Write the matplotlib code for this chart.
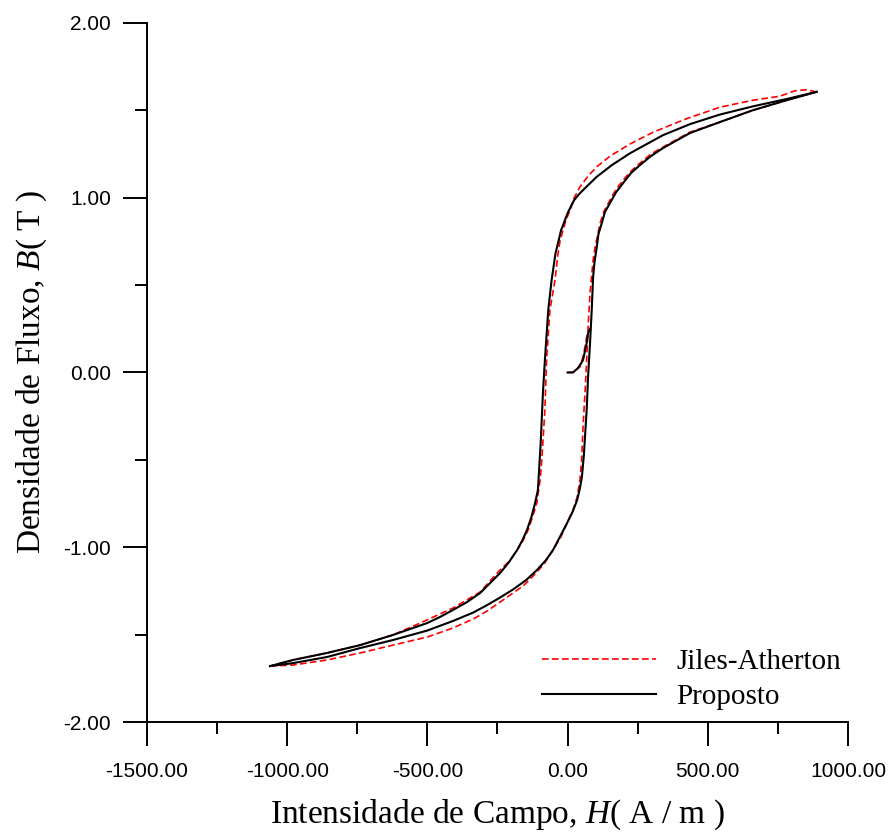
import numpy as np
import matplotlib
matplotlib.use("Agg")
import matplotlib.pyplot as plt
from matplotlib.ticker import MultipleLocator, FormatStrFormatter

plt.rcParams['font.family'] = ['Liberation Sans', 'DejaVu Sans']
plt.rcParams['mathtext.fontset'] = 'custom'
plt.rcParams['mathtext.rm'] = 'Liberation Serif'
plt.rcParams['mathtext.it'] = 'Liberation Serif:italic'

# Proposto (black) - descending branch, from the positive tip
prop_desc_H = [888, 781, 661, 543, 436, 340, 223, 158, 104, 73, 44, 23, 0, -23, -43,
               -57, -69, -81, -88, -96, -106, -116, -129, -145, -161, -180, -209,
               -241, -312, -359, -409, -455, -501, -623, -740, -858, -979, -1061]
prop_desc_B = [1.606, 1.565, 1.523, 1.476, 1.421, 1.358, 1.255, 1.187, 1.120, 1.072,
               1.026, 0.986, 0.912, 0.815, 0.683, 0.529, 0.357, 0.071, -0.118, -0.404,
               -0.673, -0.747, -0.827, -0.902, -0.959, -1.016, -1.085, -1.148, -1.262,
               -1.314, -1.359, -1.399, -1.434, -1.502, -1.560, -1.605, -1.645, -1.680]

# Proposto - ascending branch, from the negative tip
prop_asc_H = [-1061, -979, -858, -740, -623, -501, -409, -337, -287, -241, -195, -148,
              -109, -77, -52, -24, -2, 19, 34, 44, 51, 58, 68, 73, 80, 86, 91, 96, 104,
              110, 122, 133, 151, 173, 198, 226, 258, 297, 340, 436, 543, 661, 781, 888]
prop_asc_B = [-1.680, -1.663, -1.628, -1.577, -1.531, -1.477, -1.422, -1.374, -1.331,
              -1.288, -1.242, -1.188, -1.130, -1.073, -1.016, -0.930, -0.862, -0.793,
              -0.730, -0.662, -0.598, -0.473, -0.215, -0.026, 0.168, 0.357, 0.546,
              0.632, 0.717, 0.792, 0.855, 0.918, 0.969, 1.032, 1.084, 1.141, 1.187,
              1.238, 1.284, 1.370, 1.433, 1.501, 1.558, 1.606]

# Proposto - initial magnetization curve
prop_init_H = [0, 19, 37, 55, 68, 73, 80]
prop_init_B = [0.0, 0.0, 0.025, 0.071, 0.168, 0.225, 0.25]

# Jiles-Atherton (red) - descending branch
ja_desc_H = [888, 850, 810, 757, 661, 543, 425, 305, 223, 151, 104, 73, 44, 23, 9, -6,
             -16, -27, -34, -45, -63, -75, -81, -92, -98, -110, -125, -141, -160,
             -180, -208, -241, -312, -409, -526, -623, -740, -858, -979, -1061]
ja_desc_B = [1.606, 1.618, 1.612, 1.581, 1.558, 1.518, 1.453, 1.375, 1.308, 1.238,
             1.177, 1.124, 1.062, 0.998, 0.929, 0.872, 0.815, 0.752, 0.683, 0.529,
             0.357, 0.071, -0.215, -0.501, -0.616, -0.747, -0.827, -0.902, -0.965,
             -1.016, -1.080, -1.130, -1.256, -1.348, -1.434, -1.502, -1.560, -1.605,
             -1.645, -1.680]

# Jiles-Atherton - ascending branch
ja_asc_H = [-1061, -979, -858, -740, -623, -501, -409, -337, -287, -241, -195, -159,
            -123, -84, -52, -24, -2, 19, 34, 44, 50, 55, 62, 68, 73, 80, 91, 98, 116,
            130, 151, 173, 198, 226, 258, 297, 340, 436, 543, 661, 781, 888]
ja_asc_B = [-1.680, -1.674, -1.645, -1.605, -1.560, -1.514, -1.462, -1.411, -1.365,
            -1.314, -1.262, -1.222, -1.165, -1.096, -1.016, -0.941, -0.862, -0.787,
            -0.713, -0.616, -0.501, -0.312, -0.118, 0.071, 0.260, 0.454, 0.643, 0.717,
            0.855, 0.923, 0.986, 1.049, 1.101, 1.152, 1.198, 1.250, 1.290, 1.375,
            1.433, 1.501, 1.558, 1.606]

# Jiles-Atherton - initial magnetization curve
ja_init_H = [0, 19, 44, 55, 62, 68, 71]
ja_init_B = [0.0, 0.002, 0.033, 0.090, 0.147, 0.203, 0.23]

fig = plt.figure(figsize=(8.9, 8.34), dpi=100)
ax = fig.add_axes([147/890, 1 - 722/834, 701/890, 699/834])

red_style = dict(color='#ff0000', lw=1.2, linestyle=(0, (4, 2)))
black_style = dict(color='black', lw=1.5)

ax.plot(ja_desc_H, ja_desc_B, label='Jiles-Atherton', **red_style)
ax.plot(ja_asc_H, ja_asc_B, **red_style)
ax.plot(ja_init_H, ja_init_B, **red_style)
ax.plot(prop_desc_H, prop_desc_B, label='Proposto', **black_style)
ax.plot(prop_asc_H, prop_asc_B, **black_style)
ax.plot(prop_init_H, prop_init_B, **black_style)

ax.set_xlim(-1500, 1000)
ax.set_ylim(-2, 2)
ax.spines['top'].set_visible(False)
ax.spines['right'].set_visible(False)
for s in ('left', 'bottom'):
    ax.spines[s].set_linewidth(1.4)

ax.xaxis.set_major_locator(MultipleLocator(500))
ax.xaxis.set_minor_locator(MultipleLocator(250))
ax.yaxis.set_major_locator(MultipleLocator(1))
ax.yaxis.set_minor_locator(MultipleLocator(0.5))
ax.xaxis.set_major_formatter(FormatStrFormatter('%.2f'))
ax.yaxis.set_major_formatter(FormatStrFormatter('%.2f'))
ax.tick_params(which='major', direction='out', length=17, width=1.4, labelsize=15)
ax.tick_params(which='minor', direction='out', length=8.5, width=1.4)
ax.tick_params(axis='x', which='major', pad=12)
ax.tick_params(axis='y', which='major', pad=9)

ax.set_xlabel(r'Intensidade de Campo, $\mathit{H}$( A / m )', family='Liberation Serif',
              fontsize=24, labelpad=12)
ax.set_ylabel(r'Densidade de Fluxo, $\mathit{B}$( T )', family='Liberation Serif',
              fontsize=24, labelpad=10)

ax.legend(loc='lower left', bbox_to_anchor=(542/890, 1 - 710/834),
          bbox_transform=fig.transFigure, frameon=False, borderpad=0, borderaxespad=0,
          prop={'family': 'Liberation Serif', 'size': 21}, handlelength=3.9,
          handletextpad=0.7, labelspacing=0.3)

fig.savefig('out.png', dpi=100)
